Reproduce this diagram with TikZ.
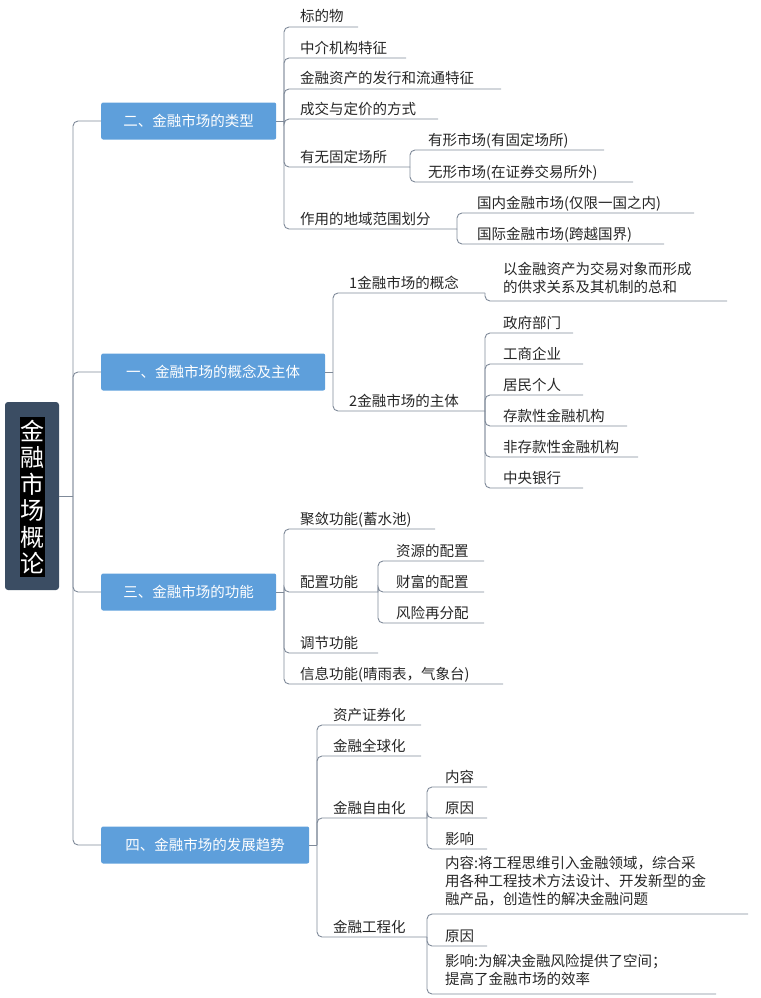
\documentclass[tikz,border=0pt]{standalone}
\usepackage{fontspec}
\newfontfamily\cjk{Noto Sans CJK SC}
\begin{document}
\begin{tikzpicture}[x=1pt,y=-1pt,
  ln/.style={draw=lineg,line width=0.9pt,rounded corners=5pt},
  lf/.style={anchor=base west,inner sep=0pt,font=\cjk\fontsize{14.5}{18}\selectfont,text=black!85},
  l1/.style={fill=blue1,rounded corners=2pt,text=white,font=\cjk\fontsize{14.5}{18}\selectfont,anchor=west,minimum height=37pt,inner sep=0pt}]
\definecolor{lineg}{HTML}{7F8A99}
\definecolor{blue1}{HTML}{5E9FDB}
\definecolor{rootc}{HTML}{3B4D63}
\useasboundingbox (0,0) rectangle (760,998);
\newcommand\leaf[7]{\draw[ln] (#1,#2) |- (#5,#4);\node[lf] (#7) at (#3,#4-5) {#6};}
% root
\node[fill=rootc,rounded corners=3pt,minimum width=54pt,minimum height=188pt,inner sep=0pt] (root) at (32,496) {};
\node[fill=black,minimum width=25pt,minimum height=160pt,inner sep=0pt] (rootbg) at (32,497) {};
\node[text=white,font=\cjk\fontsize{24}{26.5}\selectfont,align=center,inner sep=0pt] (roott) at (32,497) {金\\融\\市\\场\\概\\论};
% level 1
\node[l1,minimum width=175pt] (b2) at (101,121) {\hspace{175pt}};
\node[text=white,font=\cjk\fontsize{14.5}{18}\selectfont] (b2t) at (b2.center) {二、金融市场的类型};
\node[l1,minimum width=224pt] (b1) at (101,372) {};
\node[text=white,font=\cjk\fontsize{14.5}{18}\selectfont] (b1t) at (b1.center) {一、金融市场的概念及主体};
\node[l1,minimum width=175pt] (b3) at (101,592) {};
\node[text=white,font=\cjk\fontsize{14.5}{18}\selectfont] (b3t) at (b3.center) {三、金融市场的功能};
\node[l1,minimum width=208pt] (b4) at (101,845) {};
\node[text=white,font=\cjk\fontsize{14.5}{18}\selectfont] (b4t) at (b4.center) {四、金融市场的发展趋势};
\coordinate (tr) at (73,496);
\draw[ln] (root.east) -- (tr);
\foreach \b in {b1,b2,b3,b4} \draw[ln] (tr) |- (\b.west);
% group 1
\draw[ln] (b2.east) -- (284,121);
\leaf{284}{121}{300}{27}{358}{标的物}{a1}
\leaf{284}{121}{300}{58}{406}{中介机构特征}{a2}
\leaf{284}{121}{300}{89}{501}{金融资产的发行和流通特征}{a3}
\leaf{284}{121}{300}{119}{438}{成交与定价的方式}{a4}
\leaf{284}{121}{300}{167}{410}{有无固定场所}{a5}
\leaf{284}{121}{300}{229}{457}{作用的地域范围划分}{a6}
\leaf{410}{167}{428}{150}{604}{有形市场(有固定场所)}{a51}
\leaf{410}{167}{428}{182}{633}{无形市场(在证券交易所外)}{a52}
\leaf{457}{229}{477}{213}{694}{国内金融市场(仅限一国之内)}{a61}
\leaf{457}{229}{477}{244}{664}{国际金融市场(跨越国界)}{a62}
% group 2
\draw[ln] (b1.east) -- (333,372);
\leaf{333}{372}{349}{293}{485}{1金融市场的概念}{c1}
\leaf{333}{372}{349}{411}{485}{2金融市场的主体}{c2}
\draw[ln] (485,293) |- (727,301);
\node[lf,align=left,anchor=north west] (c11) at (503,262) {以金融资产为交易对象而形成\\的供求关系及其机制的总和};
\leaf{485}{411}{503}{333}{573}{政府部门}{c21}
\leaf{485}{411}{503}{364}{583}{工商企业}{c22}
\leaf{485}{411}{503}{395}{583}{居民个人}{c23}
\leaf{485}{411}{503}{426}{627}{存款性金融机构}{c24}
\leaf{485}{411}{503}{457}{638}{非存款性金融机构}{c25}
\leaf{485}{411}{503}{488}{583}{中央银行}{c26}
% group 3
\draw[ln] (b3.east) -- (284,592);
\leaf{284}{592}{300}{529}{435}{聚敛功能(蓄水池)}{d1}
\leaf{284}{592}{300}{592}{378}{配置功能}{d2}
\leaf{284}{592}{300}{653}{378}{调节功能}{d3}
\leaf{284}{592}{300}{684}{503}{信息功能(晴雨表，气象台)}{d4}
\leaf{378}{592}{396}{561}{484}{资源的配置}{d21}
\leaf{378}{592}{396}{592}{484}{财富的配置}{d22}
\leaf{378}{592}{396}{623}{484}{风险再分配}{d23}
% group 4
\draw[ln] (b4.east) -- (317,845);
\leaf{317}{845}{333}{725}{421}{资产证券化}{e1}
\leaf{317}{845}{333}{756}{421}{金融全球化}{e2}
\leaf{317}{845}{333}{818}{427}{金融自由化}{e3}
\leaf{317}{845}{333}{937}{427}{金融工程化}{e4}
\leaf{427}{818}{445}{787}{487}{内容}{e31}
\leaf{427}{818}{445}{818}{487}{原因}{e32}
\leaf{427}{818}{445}{849}{487}{影响}{e33}
\draw[ln] (427,937) |- (748,914);
\node[lf,align=left,anchor=north west] (e41) at (445,856) {内容:将工程思维引入金融领域，综合采\\用各种工程技术方法设计、开发新型的金\\融产品，创造性的解决金融问题};
\leaf{427}{937}{445}{946}{487}{原因}{e42}
\draw[ln] (427,937) |- (716,994);
\node[lf,align=left,anchor=north west] (e43) at (445,954) {影响:为解决金融风险提供了空间；\\提高了金融市场的效率};
\end{tikzpicture}
\end{document}
